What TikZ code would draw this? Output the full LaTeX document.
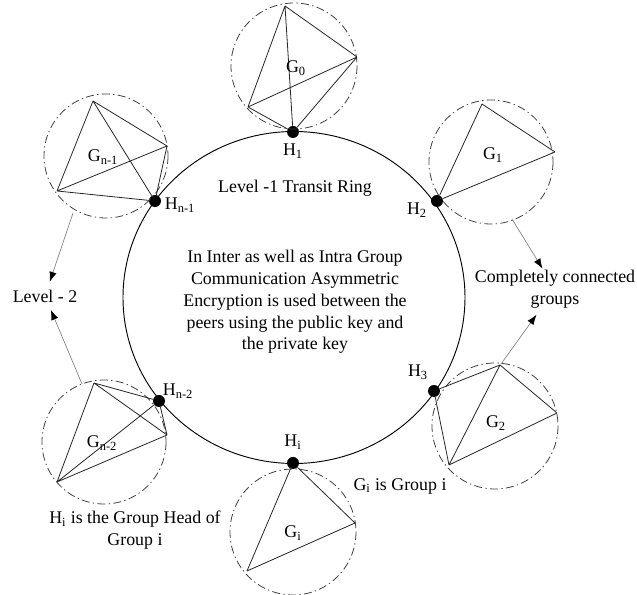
\documentclass[tikz,border=0pt]{standalone}
\usepackage{fontspec}
\setmainfont{Liberation Serif}
\usepackage{tikz}
\usetikzlibrary{arrows.meta}

\begin{document}
\begin{tikzpicture}[x=0.75pt,y=-0.75pt,
  head/.style={circle,fill=black,inner sep=0pt,minimum size=9pt},
  group/.style={draw=black!75,line width=0.6pt,dash pattern=on 6pt off 2.5pt on 1pt off 2.5pt},
  edge/.style={draw=black!85,line width=0.6pt},
  pointer/.style={draw=black!50,line width=0.5pt,-{Latex[black,length=7.5pt,width=5.5pt]}},
  txt/.style={font=\fontsize{13.4}{16.3}\selectfont,align=center,inner sep=0pt}]
\useasboundingbox (0,0) rectangle (637,595);
\draw[line width=0.7pt] (294,297.5) ellipse (171 and 166);
\node[head] (h1) at (293,132) {};
\node[head] (h2) at (437,201) {};
\node[head] (h3) at (434,391) {};
\node[head] (hi) at (293,463) {};
\node[head] (hnb) at (159,401) {};
\node[head] (hna) at (155,201) {};
\draw[group] (294,66) circle (63);
\draw[group] (106,156) circle (62);
\draw[group] (491,162) circle (62);
\draw[group] (495,426) circle (63);
\draw[group] (293,532) circle (63);
\draw[group] (104,442) circle (62);
\coordinate (g0a) at (285,6);
\coordinate (g0b) at (357,57);
\coordinate (g0c) at (248,107);
\draw[edge] (g0a) -- (g0b) (g0a) -- (g0c) (g0a) -- (h1) (g0b) -- (g0c) (g0b) -- (h1) (g0c) -- (h1);
\coordinate (gnaa) at (93,101);
\coordinate (gnab) at (167,146);
\coordinate (gnac) at (57,191);
\draw[edge] (gnaa) -- (gnab) (gnaa) -- (gnac) (gnaa) -- (hna) (gnab) -- (gnac) (gnab) -- (hna) (gnac) -- (hna);
\coordinate (g1a) at (482,104);
\coordinate (g1b) at (555,152);
\draw[edge] (g1a) -- (g1b) (g1a) -- (h2) (g1b) -- (h2);
\coordinate (g2a) at (500,365);
\coordinate (g2b) at (557,413);
\coordinate (g2c) at (449,465);
\draw[edge] (h3) -- (g2a) (g2a) -- (g2b) (g2b) -- (g2c) (g2c) -- (g2a) (g2c) -- (h3);
\coordinate (gia) at (355,523);
\coordinate (gib) at (247,571);
\draw[edge] (hi) -- (gia) (gia) -- (gib) (gib) -- (hi);
\coordinate (gnba) at (94,383);
\coordinate (gnbb) at (167,435);
\coordinate (gnbc) at (57,482);
\draw[edge] (gnba) -- (hnb) (gnba) -- (gnbb) (gnba) -- (gnbc) (gnbc) -- (gnbb) (gnbc) -- (hnb) (gnbb) -- (hnb);
\node[txt] (h1l) at (293,151) {H\textsubscript{1}};
\node[txt] (h2l) at (417,210) {H\textsubscript{2}};
\node[txt] (h3l) at (418,372) {H\textsubscript{3}};
\node[txt] (hil) at (293,442) {H\textsubscript{i}};
\node[txt] (hnbl) at (178,391) {H\textsubscript{n-2}};
\node[txt] (hnal) at (180,205) {H\textsubscript{n-1}};
\node[txt] (g0l) at (296,68) {G\textsubscript{0}};
\node[txt] (gnal) at (103,157) {G\textsubscript{n-1}};
\node[txt] (g1l) at (493,155) {G\textsubscript{1}};
\node[txt] (g2l) at (496,423) {G\textsubscript{2}};
\node[txt] (gil) at (293,533) {G\textsubscript{i}};
\node[txt] (gnbl) at (102,443) {G\textsubscript{n-2}};
\node[txt] (ring) at (295,188) {Level -1 Transit Ring};
\node[txt] (note) at (295,302) {In Inter as well as Intra Group\\Communication Asymmetric\\Encryption is used between the\\peers using the public key and\\the private key};
\node[txt] (lvl) at (45,296) {Level - 2};
\node[txt] (full) at (555,289) {Completely connected\\groups};
\node[txt] (gnote) at (400,486) {G\textsubscript{i} is Group i};
\node[txt] (hnote) at (135,530) {H\textsubscript{i} is the Group Head of\\Group i};
\coordinate (gnatip) at (73,213);
\coordinate (gnbtip) at (82,384);
\coordinate (g1tip) at (512,219);
\coordinate (g2tip) at (501,364);
\draw[pointer,shorten >=6pt] (gnatip) -- (lvl);
\draw[pointer,shorten >=6pt] (gnbtip) -- (lvl);
\draw[pointer,shorten >=1pt] (g1tip) -- (full);
\draw[pointer,shorten >=6pt] (g2tip) -- (full);
\end{tikzpicture}
\end{document}
